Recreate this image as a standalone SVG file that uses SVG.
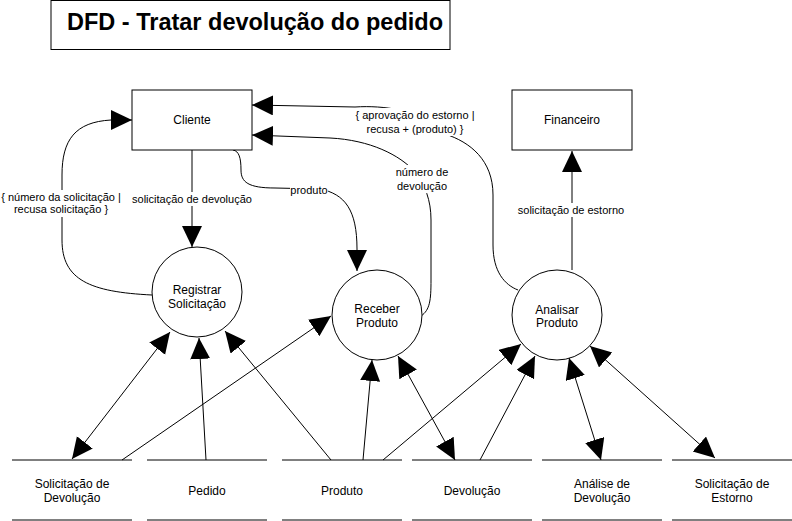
<svg xmlns="http://www.w3.org/2000/svg" width="792" height="521" viewBox="0 0 792 521">
<style>
text{font-family:"Liberation Sans",Arial,sans-serif;fill:#000}
.n{font-size:12px;text-anchor:middle}
.l{font-size:11px;text-anchor:middle}
.box{fill:#fff;stroke:#000;stroke-width:1}
.ds{stroke:#000;stroke-width:1;fill:none}
.e{fill:none;stroke:#000;stroke-width:1}
.bg{fill:#fff}
</style>
<defs>
<marker id="ah" markerUnits="userSpaceOnUse" markerWidth="22" markerHeight="22" refX="21" refY="10" orient="auto-start-reverse" viewBox="0 0 22 22">
<path d="M0,0 L21,10 L0,20 Z" fill="#000"/>
</marker>
</defs>
<rect x="0" y="0" width="792" height="521" fill="#fff"/>
<g id="title">
<rect x="51" y="0.5" width="399" height="49" class="box"/>
<text x="67" y="30" style="font-size:23.5px;font-weight:bold">DFD - Tratar devolução do pedido</text>
</g>
<g id="connectors">
<path class="e" d="M192,150 L192,247" marker-end="url(#ah)"/>
<path class="e" d="M152,295 C90,292 62,280 62,240 L62,175 C62,140 75,122 111,120 L132,120" marker-end="url(#ah)"/>
<path class="e" d="M233,150 C239,151 241,158 241,170 C241,182 248,188 275,188 L320,189 C345,194 357,210 357,249 L357,271" marker-end="url(#ah)"/>
<path class="e" d="M421,316 C430,310 431,300 431,280 L431,220 C431,200 425,185 415,172 C400,155 370,140 330,138 L252,135" marker-end="url(#ah)"/>
<path class="e" d="M518,290 C505,285 493,272 493,245 L493,195 C493,160 470,142 445,134 L400,110 C385,107 370,106 355,107 L252,105" marker-end="url(#ah)"/>
<path class="e" d="M572,270 L572,151" marker-end="url(#ah)"/>
<path class="e" d="M72,459 L170,332" marker-start="url(#ah)" marker-end="url(#ah)"/>
<path class="e" d="M122,460 L331,316" marker-end="url(#ah)"/>
<path class="e" d="M206,460 L199,338" marker-end="url(#ah)"/>
<path class="e" d="M331,460 L225,331" marker-end="url(#ah)"/>
<path class="e" d="M363,460 L372,360" marker-end="url(#ah)"/>
<path class="e" d="M455,460 L398,356" marker-start="url(#ah)" marker-end="url(#ah)"/>
<path class="e" d="M383,460 L521,344" marker-end="url(#ah)"/>
<path class="e" d="M480,460 L535,356" marker-end="url(#ah)"/>
<path class="e" d="M601,460 L569,358" marker-start="url(#ah)" marker-end="url(#ah)"/>
<path class="e" d="M715,458 L590,346" marker-start="url(#ah)" marker-end="url(#ah)"/>
<rect class="bg" x="132" y="192" width="121" height="14"/>
<text class="l" x="192" y="203">solicitação de devolução</text>
<rect class="bg" x="1" y="190" width="121" height="27"/>
<text class="l" x="61" y="201">{ número da solicitação |</text>
<text class="l" x="61" y="213">recusa solicitação }</text>
<rect class="bg" x="290" y="183" width="38" height="13"/>
<text class="l" x="309" y="194">produto</text>
<rect class="bg" x="395" y="165" width="54" height="28"/>
<text class="l" x="422" y="176">número de</text>
<text class="l" x="422" y="190">devolução</text>
<rect class="bg" x="355" y="108" width="121" height="28"/>
<text class="l" x="415" y="119">{ aprovação do estorno |</text>
<text class="l" x="415" y="133">recusa + (produto) }</text>
<rect class="bg" x="516" y="203" width="111" height="14"/>
<text class="l" x="571" y="214">solicitação de estorno</text>
</g>
<g id="cliente">
<rect x="132" y="90" width="120" height="60" class="box"/>
<text class="n" x="192" y="124">Cliente</text>
</g>
<g id="financeiro">
<rect x="512" y="90" width="120" height="60" class="box"/>
<text class="n" x="572" y="124">Financeiro</text>
</g>
<g id="registrar">
<circle cx="197" cy="292" r="45" class="box"/>
<text class="n" x="197" y="294">Registrar</text>
<text class="n" x="197" y="308">Solicitação</text>
</g>
<g id="receber">
<circle cx="377" cy="315" r="45" class="box"/>
<text class="n" x="377" y="313">Receber</text>
<text class="n" x="377" y="327">Produto</text>
</g>
<g id="analisar">
<circle cx="557" cy="315" r="45" class="box"/>
<text class="n" x="557" y="314">Analisar</text>
<text class="n" x="557" y="327">Produto</text>
</g>
<g id="ds-solicitacao-devolucao">
<path class="ds" d="M12,460 H132 M12,520 H132"/>
<text class="n" x="72" y="488">Solicitação de</text>
<text class="n" x="72" y="502">Devolução</text>
</g>
<g id="ds-pedido">
<path class="ds" d="M147,460 H267 M147,520 H267"/>
<text class="n" x="207" y="495">Pedido</text>
</g>
<g id="ds-produto">
<path class="ds" d="M282,460 H402 M282,520 H402"/>
<text class="n" x="342" y="495">Produto</text>
</g>
<g id="ds-devolucao">
<path class="ds" d="M412,460 H532 M412,520 H532"/>
<text class="n" x="472" y="495">Devolução</text>
</g>
<g id="ds-analise-devolucao">
<path class="ds" d="M542,460 H662 M542,520 H662"/>
<text class="n" x="602" y="488">Análise de</text>
<text class="n" x="602" y="502">Devolução</text>
</g>
<g id="ds-solicitacao-estorno">
<path class="ds" d="M672,460 H792 M672,520 H792"/>
<text class="n" x="732" y="488">Solicitação de</text>
<text class="n" x="732" y="502">Estorno</text>
</g>
</svg>
